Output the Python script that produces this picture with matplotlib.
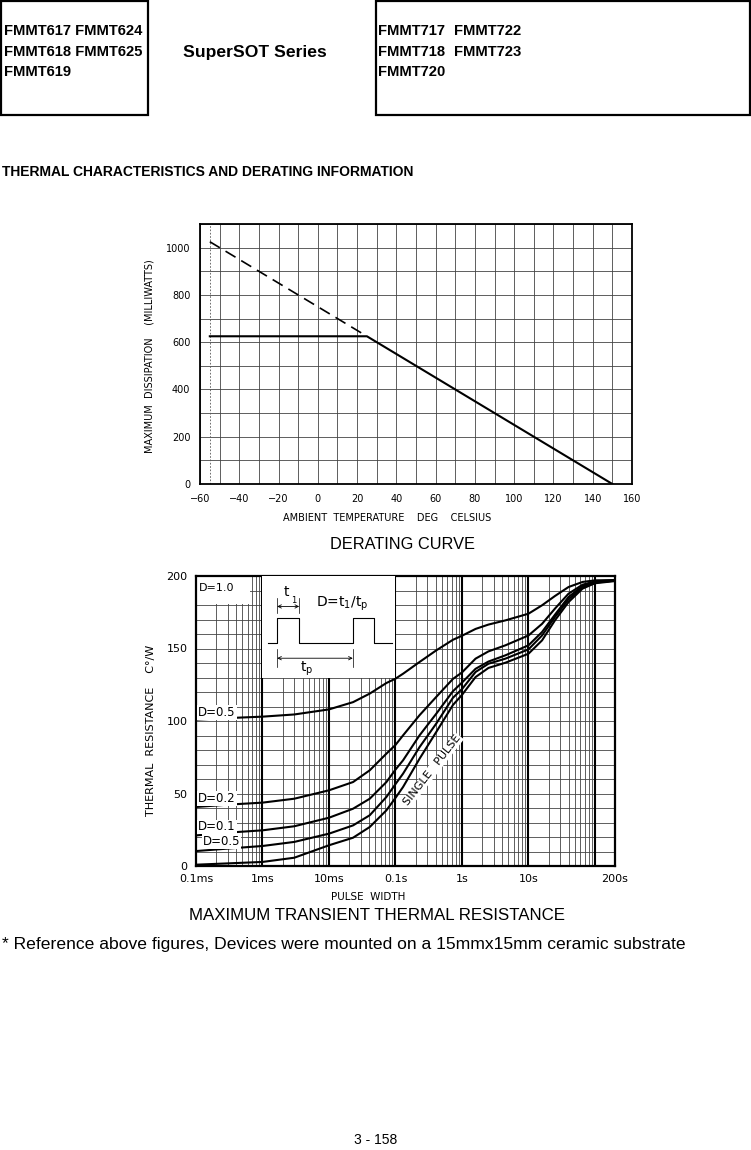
import matplotlib.pyplot as plt
import numpy as np
from matplotlib.patches import Rectangle

W, H = 751, 1150

# derating curve (ambient temp degC, mW)
derate_temp = [-55, 25, 150]
derate_power = [625, 625, 0]
extrap_temp = [-55, 25]
extrap_power = [1025, 625]

# transient thermal resistance (C/W) vs pulse width (s)
pulse_width = [1e-4, 3e-4, 1e-3, 3e-3, 1e-2, 2.3e-2, 4.1e-2, 7.3e-2, 0.1, 0.13, 0.23, 0.41,
               0.73, 1, 1.6, 2.5, 4.5, 10, 16, 25, 40, 65, 100, 200]
r_d05 = [101, 102, 103, 104.5, 108, 113, 118.9, 126.2, 129.2, 132.6, 140.7, 148.7,
         156, 158.8, 163.5, 166.5, 169.4, 174, 179.8, 186.2, 192.4, 195.9, 197, 197.2]
r_d02 = [40.7, 42.3, 43.7, 46.4, 52.2, 57.9, 66, 77.5, 83.5, 90.1, 104, 116.6,
         129, 133.5, 143, 148, 152.2, 159, 167, 177.5, 187.8, 194, 196.3, 197]
r_d01 = [21.1, 23, 24.6, 27.4, 33.3, 39.5, 46.4, 57.9, 66.5, 72.9, 90.1, 105,
         120.5, 126.5, 136, 141, 145.3, 152.2, 161.4, 173.3, 185.5, 193.1, 195.9, 196.8]
r_d005 = [10.3, 12, 13.8, 16.6, 22.3, 28, 35, 47.6, 56.5, 63.7, 82, 98.2,
          116, 122, 133.8, 139.5, 143, 149.4, 159, 171.7, 183.9, 192.2, 195.4, 196.8]
r_single = [0.9, 1.8, 2.8, 5.7, 14.3, 19.5, 26.9, 38.4, 47, 54.5, 74, 92.4,
            111, 118, 130.3, 136.6, 140.2, 146.4, 155.6, 169.4, 182, 191.3, 195, 196.5]

curve_labels = ["D=0.5", "D=0.2", "D=0.1", "D=0.5"]
label_y = [106, 46.5, 27, 17]

x_tick_vals = [1e-4, 1e-3, 1e-2, 0.1, 1, 10, 200]
x_tick_text = ["0.1ms", "1ms", "10ms", "0.1s", "1s", "10s", "200s"]


def fx(x):
    return x / W


def fy(y):
    return 1 - y / H


def ax_rect(l, t, r, b):
    return [fx(l), fy(b), (r - l) / W, (b - t) / H]


fig = plt.figure(figsize=(W / 100, H / 100), dpi=100)

sans = ['Liberation Sans', 'DejaVu Sans']
plot_font = ['DejaVu Sans']

# header boxes
fig.patches.append(Rectangle((fx(1), fy(115)), 147 / W, 114 / H, transform=fig.transFigure,
                             fill=False, lw=1.6, ec='black'))
fig.patches.append(Rectangle((fx(376), fy(115)), 374 / W, 114 / H, transform=fig.transFigure,
                             fill=False, lw=1.6, ec='black'))
hdr = dict(fontsize=10.6, fontweight='bold', family=sans, va='center', ha='left')
fig.text(fx(4), fy(31), "FMMT617 FMMT624", **hdr)
fig.text(fx(4), fy(52), "FMMT618 FMMT625", **hdr)
fig.text(fx(4), fy(72), "FMMT619", **hdr)
fig.text(fx(378), fy(31), "FMMT717", **hdr)
fig.text(fx(378), fy(52), "FMMT718", **hdr)
fig.text(fx(378), fy(72), "FMMT720", **hdr)
fig.text(fx(454), fy(31), "FMMT722", **hdr)
fig.text(fx(454), fy(52), "FMMT723", **hdr)
fig.text(fx(255), fy(52), "SuperSOT Series", fontsize=12.6, fontweight='bold', family=sans,
         va='center', ha='center')
fig.text(fx(2), fy(172), "THERMAL CHARACTERISTICS AND DERATING INFORMATION", fontsize=10,
         fontweight='bold', family=sans, va='center', ha='left')

# ---- derating curve ----
ax1 = fig.add_axes(ax_rect(200, 224, 632, 484))
ax1.set_xlim(-60, 160)
ax1.set_ylim(0, 1100)
ax1.set_xticks(np.arange(-60, 161, 20))
ax1.set_xticks(np.arange(-60, 161, 10), minor=True)
ax1.set_yticks(np.arange(0, 1001, 200))
ax1.set_yticks(np.arange(0, 1101, 100), minor=True)
ax1.grid(True, which='both', color='#444444', lw=0.6)
ax1.set_axisbelow(True)
ax1.tick_params(which='both', length=0, labelsize=7, pad=7)
for lab in ax1.get_xticklabels() + ax1.get_yticklabels():
    lab.set_family(plot_font)
for sp in ax1.spines.values():
    sp.set_linewidth(1.3)
ax1.axvline(-55, color='#555555', lw=0.6, ls=(0, (2, 2)))
ax1.plot(extrap_temp, extrap_power, color='black', lw=1.2, ls=(0, (7, 4)))
ax1.plot(derate_temp, derate_power, color='black', lw=1.5)
fig.text(fx(150), fy(356), "MAXIMUM  DISSIPATION    (MILLIWATTS)", rotation=90, fontsize=7,
         family=plot_font, va='center', ha='center')
fig.text(fx(387), fy(518), "AMBIENT  TEMPERATURE    DEG    CELSIUS", fontsize=7,
         family=plot_font, va='center', ha='center')
fig.text(fx(402), fy(545), "DERATING CURVE", fontsize=11.8, family=sans, va='center',
         ha='center')

# ---- transient thermal resistance ----
ax2 = fig.add_axes(ax_rect(196, 576, 615, 866))
ax2.set_xscale('log')
ax2.set_xlim(1e-4, 200)
ax2.set_ylim(0, 200)
minor_x = [k * 10.0 ** e for e in range(-4, 3) for k in range(2, 10) if k * 10.0 ** e < 200]
ax2.set_xticks(x_tick_vals)
ax2.set_xticklabels(x_tick_text)
ax2.set_xticks(minor_x, minor=True)
ax2.xaxis.set_minor_formatter(plt.NullFormatter())
ax2.set_yticks(np.arange(0, 201, 50))
ax2.set_yticks(np.arange(0, 201, 10), minor=True)
ax2.grid(True, which='both', color='#444444', lw=0.6)
ax2.set_axisbelow(True)
ax2.tick_params(which='both', length=0, labelsize=8, pad=6)
for lab in ax2.get_xticklabels() + ax2.get_yticklabels():
    lab.set_family(plot_font)
for sp in ax2.spines.values():
    sp.set_linewidth(1.6)
for xv in [1e-3, 1e-2, 0.1, 1, 10, 100]:
    ax2.axvline(xv, color='black', lw=1.5, zorder=1)

# white patch behind the D=1.0 label
ax2.add_patch(Rectangle((1e-4, 180.5), 6.5e-4 - 1e-4, 19.5, facecolor='white', edgecolor='none',
                        zorder=1.5))

lbl_box = dict(facecolor='white', edgecolor='none', pad=0.6)
ax2.text(1.1e-4, 192, "D=1.0", fontsize=8, family=plot_font, va='center', ha='left', zorder=4)
for i, (txt, yv) in enumerate(zip(curve_labels, label_y)):
    xv = 1.25e-4 if i == 3 else 1.08e-4
    ax2.text(xv, yv, txt, fontsize=8.5, family=plot_font, va='center', ha='left', bbox=lbl_box,
             zorder=4)
# label tucked under the single pulse curve
ax2.text(0.36, 66, "SINGLE   PULSE", fontsize=8, family=plot_font, va='center', ha='center',
         rotation=52, bbox=dict(facecolor='white', edgecolor='none', pad=0.5), zorder=2)

for r in [r_d05, r_d02, r_d01, r_d005, r_single]:
    ax2.plot(pulse_width, r, color='black', lw=1.5, zorder=3)

# duty cycle sketch
ins = ax2.inset_axes([np.log10(10) / np.log10(2e6), 0.65, 2 / np.log10(2e6), 0.35])
ins.set_xlim(0, 1)
ins.set_ylim(0, 1)
ins.set_facecolor('white')
ins.set_xticks([])
ins.set_yticks([])
for sp in ins.spines.values():
    sp.set_visible(False)
wave_x = [0.038, 0.110, 0.110, 0.276, 0.276, 0.679, 0.679, 0.842, 0.842, 0.973]
wave_y = [0.344, 0.344, 0.587, 0.587, 0.344, 0.344, 0.587, 0.587, 0.344, 0.344]
ins.plot(wave_x, wave_y, color='black', lw=0.8)
arr = dict(arrowstyle='<->', lw=0.6, color='black', shrinkA=0, shrinkB=0, mutation_scale=6)
ins.annotate('', xy=(0.110, 0.70), xytext=(0.276, 0.70), arrowprops=arr)
ins.annotate('', xy=(0.110, 0.19), xytext=(0.679, 0.19), arrowprops=arr)
for xv, y0, y1 in [(0.110, 0.64, 0.78), (0.276, 0.64, 0.78), (0.110, 0.10, 0.28), (0.679, 0.10, 0.28)]:
    ins.plot([xv, xv], [y0, y1], color='black', lw=0.5)
ins.text(0.18, 0.84, "t", fontsize=10, family=plot_font, va='center', ha='center')
ins.text(0.235, 0.76, "1", fontsize=6, family=plot_font, va='center', ha='center')
ins.text(0.40, 0.73, r"D=t$_{\mathregular{1}}$/t$_{\mathregular{p}}$", fontsize=10,
         family=plot_font, va='center', ha='left')
ins.text(0.33, 0.09, r"t$_{\mathregular{p}}$", fontsize=10, family=plot_font, va='center',
         ha='center')

fig.text(fx(151), fy(730), "THERMAL  RESISTANCE    C°/W", rotation=90, fontsize=8,
         family=plot_font, va='center', ha='center')
fig.text(fx(368), fy(897), "PULSE  WIDTH", fontsize=7.5, family=plot_font, va='center',
         ha='center')
fig.text(fx(377), fy(915), "MAXIMUM TRANSIENT THERMAL RESISTANCE", fontsize=12.2, family=sans,
         va='center', ha='center')
fig.text(fx(2), fy(945), "* Reference above figures, Devices were mounted on a 15mmx15mm ceramic substrate",
         fontsize=12.6, family=sans, va='center', ha='left')
fig.text(fx(376), fy(1140), "3 - 158", fontsize=10, family=sans, va='center', ha='center')

fig.savefig("out.png", dpi=100)
